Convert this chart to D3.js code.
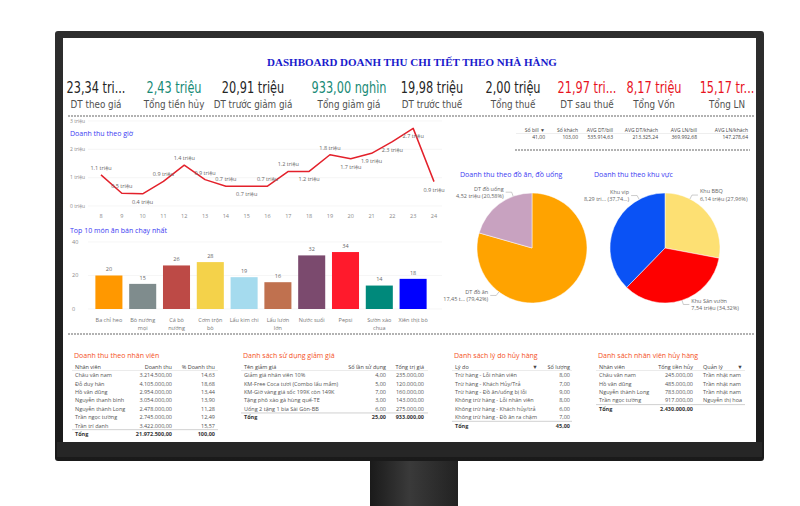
<!DOCTYPE html>
<html><head><meta charset="utf-8">
<script src="https://cdn.jsdelivr.net/npm/d3@7"></script>
<style>
body{margin:0;background:#fff}
svg{display:block}
</style>
</head><body>
<svg id="c" width="800" height="506"></svg>
<script>
// ---------- DATA ----------
const title = "DASHBOARD DOANH THU CHI TIẾT THEO NHÀ HÀNG";
const kpiValues = ["23,34 tri...","2,43 triệu","20,91 triệu","933,00 nghìn","19,98 triệu","2,00 triệu","21,97 tri...","8,17 triệu","15,17 tr..."];
const kpiLabels = ["DT theo giá","Tổng tiền hủy","DT trước giảm giá","Tổng giảm giá","DT trước thuế","Tổng thuế","DT sau thuế","Tổng Vốn","Tổng LN"];
const kpiTone = ["plain","good","plain","good","plain","plain","bad","bad","bad"];

const hours = [8,9,10,11,12,13,14,15,16,17,18,19,20,21,22,23,24];
const hourRevenue = [1.1,0.45,0.43,0.87,1.44,0.93,0.7,0.7,0.7,1.22,1.22,1.81,1.67,1.86,2.27,2.74,0.86];
const hourTicks = [0,1,2,3];
const hourLabelBelow = [10,15,18,20,21,22,23,24];

const dishes = ["Ba chỉ heo","Bò nướng\nmọi","Cá bò\nnướng","Cơm trộn\nbò","Lẩu kim chi","Lẩu lươn\nlớn","Nước suối","Pepsi","Sườn xào\nchua","Xiên thịt bò"];
const dishSold = [20,15,26,28,19,16,32,34,14,18];
const dishTicks = [0,20,40];

const summaryHeaders = ["Số bill ▼","Số khách","AVG DT/bill","AVG DT/khách","AVG LN/bill","AVG LN/khách"];
const summaryValues = ["41,00","103,00","535.914,63","213.325,24","369.992,68","147.278,64"];

const foodNames = ["DT đồ ăn","DT đồ uống"];
const foodValues = [17.451, 4.522];
const foodValueText = ["17,45 t...","4,52 triệu"];
const foodPct = ["79,42%","20,58%"];

const areaNames = ["Khu BBQ","Khu Sân vườn","Khu vip"];
const areaValues = [6.144, 7.541, 8.292];
const areaValueText = ["6,14 triệu","7,54 triệu","8,29 tri..."];
const areaPct = ["27,96%","34,32%","37,74..."];

const staffHeaders = ["Nhân viên","Doanh thu","% Doanh thu"];
const staffRows = [
  ["Châu văn nam","3.214.500,00","14,63"],
  ["Đỗ duy hân","4.105.000,00","18,68"],
  ["Hồ văn dũng","2.954.000,00","13,44"],
  ["Nguyễn thanh bình","3.054.000,00","13,90"],
  ["Nguyễn thành Long","2.478.000,00","11,28"],
  ["Trần ngọc tường","2.745.000,00","12,49"],
  ["Trần trí danh","3.422.000,00","15,57"]];
const staffTotal = ["Tổng","21.972.500,00","100,00"];

const discHeaders = ["Tên giảm giá","Số lần sử dụng","Tổng trị giá"];
const discRows = [
  ["Giảm giá nhân viên 10%","4,00","235.000,00"],
  ["KM-Free Coca tươi (Combo lẩu mắm)","5,00","120.000,00"],
  ["KM-Giờ vàng giá sốc 199K còn 149K","7,00","160.000,00"],
  ["Tặng phô xào gà hùng quế-TE","3,00","143.000,00"],
  ["Uống 2 tặng 1 bia Sài Gòn-BB","6,00","275.000,00"]];
const discTotal = ["Tổng","25,00","933.000,00"];

const reasonHeaders = ["Lý do","▼","Số lượng"];
const reasonRows = [
  ["Trừ hàng - Lỗi nhân viên","","8,00"],
  ["Trừ hàng - Khách Hủy/Trả","","7,00"],
  ["Trừ hàng - Đồ ăn/uống bị lỗi","","9,00"],
  ["Không trừ hàng - Lỗi nhân viên","","8,00"],
  ["Không trừ hàng - Khách hủy/trả","","6,00"],
  ["Không trừ hàng - Đồ ăn ra chậm","","7,00"]];
const reasonTotal = ["Tổng","","45,00"];

const cancelHeaders = ["Nhân viên","Tổng tiền hủy","Quản lý","▼"];
const cancelRows = [
  ["Châu văn nam","245.000,00","Trần nhật nam",""],
  ["Hồ văn dũng","485.000,00","Trần nhật nam",""],
  ["Nguyễn thành Long","783.000,00","Trần nhật nam",""],
  ["Trần ngọc tường","917.000,00","Nguyễn thị hoa",""]];
const cancelTotal = ["Tổng","2.430.000,00","",""];

// ---------- DRAW ----------
const svg = d3.select("#c");
const defs = svg.append("defs");
const gStand = defs.append("linearGradient").attr("id","stand").attr("x1","0").attr("x2","1");
gStand.append("stop").attr("offset","0").attr("stop-color","#1a1a1a");
gStand.append("stop").attr("offset","0.45").attr("stop-color","#3a3a3a");
gStand.append("stop").attr("offset","1").attr("stop-color","#222");
const gBez = defs.append("linearGradient").attr("id","bez").attr("x1","0").attr("x2","0").attr("y1","0").attr("y2","1");
gBez.append("stop").attr("offset","0").attr("stop-color","#2e2e2e");
gBez.append("stop").attr("offset","1").attr("stop-color","#1a1a1a");

// monitor
svg.append("rect").attr("x",370).attr("y",455).attr("width",88).attr("height",51).attr("fill","url(#stand)");
svg.append("rect").attr("x",55).attr("y",31).attr("width",709).attr("height",430).attr("rx",3).attr("fill","url(#bez)");
svg.append("rect").attr("x",57).attr("y",442).attr("width",705).attr("height",15).attr("fill","#262626");
svg.append("rect").attr("x",63).attr("y",38).attr("width",693).attr("height",404).attr("fill","#fff");

const grey = "#555";
const sans = "'Open Sans','Noto Sans',sans-serif";
function txt(g,x,y,s,opt={}){
  const t = g.append("text").attr("x",x).attr("y",y).attr("dy","0.35em")
    .style("font-family",opt.family||sans)
    .style("font-size",(opt.size||5.5)+"px").attr("fill",opt.fill||grey)
    .attr("text-anchor",opt.anchor||"start").text(s);
  if(opt.weight) t.style("font-weight",opt.weight);
  return t;
}
function dashed(y,x1,x2){
  svg.append("line").attr("x1",x1).attr("x2",x2).attr("y1",y).attr("y2",y)
    .attr("stroke","#999").attr("stroke-width",1.4).attr("stroke-dasharray","2,1");
}

// title
txt(svg,412,62,title,{size:11,fill:"#1a1acc",anchor:"middle",weight:"bold",family:"'Liberation Serif','DejaVu Serif',serif"});

// KPI cards (condensed by horizontal scaling)
const kpiCenters = [96,174,253,349,432,513,587,654,727];
const toneColor = {plain:"#252525",good:"#178a76",bad:"#e8131f"};
kpiValues.forEach((v,i)=>{
  const gv = svg.append("g").attr("transform",`translate(${kpiCenters[i]},88) scale(0.73,1)`);
  txt(gv,0,0,v,{size:15.5,fill:toneColor[kpiTone[i]],anchor:"middle",family:"'DejaVu Sans',sans-serif"});
  const gl = svg.append("g").attr("transform",`translate(${kpiCenters[i]},104) scale(0.88,1)`);
  txt(gl,0,0,kpiLabels[i],{size:10,fill:"#505050",anchor:"middle",family:"'DejaVu Sans',sans-serif"});
});
dashed(116,68,755);
dashed(334,68,755);

// line chart
const lc = svg.append("g");
const xL = d3.scalePoint().domain(hours).range([101,434]);
const yL = d3.scaleLinear().domain([0,3]).range([206,121]);
hourTicks.forEach(t=>{
  lc.append("line").attr("x1",88).attr("x2",442).attr("y1",yL(t)).attr("y2",yL(t)).attr("stroke","#f0f0f0").attr("stroke-width",0.6);
  txt(lc,70,yL(t),t+" triệu",{size:5,fill:"#888"});
});
txt(lc,70,134,"Doanh thu theo giờ",{size:7,fill:"#3b3bf2"});
hours.forEach(h=>txt(lc,xL(h),216,h,{size:5.5,fill:"#888",anchor:"middle"}));
lc.append("path").datum(hours.map((h,i)=>[h,hourRevenue[i]]))
  .attr("fill","none").attr("stroke","#e3212b").attr("stroke-width",1.5).attr("stroke-linejoin","round")
  .attr("d",d3.line().x(d=>xL(d[0])).y(d=>yL(d[1])));
const f1 = d3.format(".1f");
hours.forEach((h,i)=>{
  const below = hourLabelBelow.includes(h);
  txt(lc,xL(h),yL(hourRevenue[i])+(below?8:-7),f1(hourRevenue[i])+" triệu",{size:5.5,fill:"#666",anchor:"middle"});
});

// bar chart
const bc = svg.append("g");
txt(bc,70,231,"Top 10 món ăn bán chạy nhất",{size:7,fill:"#3b3bf2"});
const xB = d3.scaleBand().domain(dishes).range([92,430]).paddingInner(0.2).paddingOuter(0.1);
const yB = d3.scaleLinear().domain([0,40]).range([309,242]);
dishTicks.forEach(t=>{
  bc.append("line").attr("x1",88).attr("x2",442).attr("y1",yB(t)).attr("y2",yB(t)).attr("stroke","#f0f0f0").attr("stroke-width",0.6);
  txt(bc,72,yB(t),t,{size:5.5,fill:"#888"});
});
const barColors = ["#ff9800","#7f8c8d","#bd4a46","#f4d24a","#a5dbee","#c0714f","#7b4a6e","#ff1a2c","#00897b","#0000ff"];
dishes.forEach((d,i)=>{
  bc.append("rect").attr("x",xB(d)).attr("y",yB(dishSold[i])).attr("width",xB.bandwidth())
    .attr("height",yB(0)-yB(dishSold[i])).attr("fill",barColors[i]);
  txt(bc,xB(d)+xB.bandwidth()/2,yB(dishSold[i])-6,dishSold[i],{size:5.5,fill:"#666",anchor:"middle"});
  d.split("\n").forEach((ln,k)=>txt(bc,xB(d)+xB.bandwidth()/2,320+k*8,ln,{size:5.5,fill:"#777",anchor:"middle"}));
});

// summary table (top right)
const sumRight = [545,578,613,658,697,748];
summaryHeaders.forEach((h,i)=>{
  txt(svg,sumRight[i],130,h,{size:5,fill:"#444",anchor:"end"});
  txt(svg,sumRight[i],137,summaryValues[i],{size:5,fill:"#444",anchor:"end"});
});
svg.append("line").attr("x1",516).attr("x2",748).attr("y1",133.5).attr("y2",133.5).attr("stroke","#ddd").attr("stroke-width",0.5);
dashed(150,515,750);

// pies
function drawPie(cx,cy,r,names,values,vtext,pct,colors,labelAngles,titleText,titleX){
  const g = svg.append("g");
  txt(g,titleX,175,titleText,{size:7,fill:"#3b3bf2"});
  const arcs = d3.pie().sort(null).value(d=>d)(values);
  const arc = d3.arc().innerRadius(0).outerRadius(r);
  const pg = g.append("g").attr("transform",`translate(${cx},${cy})`);
  pg.selectAll("path").data(arcs).join("path").attr("d",arc)
    .attr("fill",(d,i)=>colors[i]).attr("stroke","#fff").attr("stroke-width",0.5);
  arcs.forEach((a,i)=>{
    const ang = labelAngles[i]*Math.PI/180;
    const s = Math.sin(ang), c = Math.cos(ang);
    const p1 = [cx+r*s, cy-r*c], p2=[cx+r*1.08*s, cy-r*1.08*c];
    const dir = s>=0?1:-1;
    const p3 = [p2[0]+6*dir, p2[1]];
    g.append("polyline").attr("points",[p1,p2,p3].map(p=>p.join(",")).join(" "))
      .attr("fill","none").attr("stroke","#aaa").attr("stroke-width",0.6);
    const anchor = dir>0?"start":"end";
    txt(g,p3[0]+2*dir,p3[1]-3.5,names[i],{size:5.5,fill:"#666",anchor});
    txt(g,p3[0]+2*dir,p3[1]+3.8,vtext[i]+" ("+pct[i]+")",{size:5.5,fill:"#666",anchor});
  });
}
drawPie(532,248,55,foodNames,foodValues,foodValueText,foodPct,["#ffa300","#c8a2c0"],[217,340],"Doanh thu theo đồ ăn, đồ uống",460);
drawPie(665,248,55,areaNames,areaValues,areaValueText,areaPct,["#fde073","#fe0000","#0a52f5"],[27,162,332],"Doanh thu theo khu vực",594);

// bottom tables
function drawTable(spec){
  const g = svg.append("g");
  txt(g,spec.x0+2,356,spec.title,{size:7,fill:"#f4511e"});
  spec.headers.forEach((h,i)=>txt(g,spec.cols[i],367,h,{size:5.5,fill:"#444",anchor:spec.anchors[i]}));
  g.append("line").attr("x1",spec.x0).attr("x2",spec.x1).attr("y1",370.5).attr("y2",370.5).attr("stroke","#ddd").attr("stroke-width",0.6);
  const step = 8.35;
  spec.rows.forEach((r,j)=>r.forEach((v,i)=>txt(g,spec.cols[i],375.5+j*step,v,{size:5.5,fill:"#555",anchor:spec.anchors[i]})));
  const ty = 375.5+spec.rows.length*step;
  g.append("line").attr("x1",spec.x0).attr("x2",spec.x1).attr("y1",ty-4.3).attr("y2",ty-4.3).attr("stroke","#ccc").attr("stroke-width",0.9);
  spec.total.forEach((v,i)=>txt(g,spec.cols[i],ty,v,{size:5.5,fill:"#333",anchor:spec.anchors[i],weight:"bold"}));
}
drawTable({x0:72,x1:218,title:"Doanh thu theo nhân viên",headers:staffHeaders,rows:staffRows,total:staffTotal,cols:[75,172,215],anchors:["start","end","end"]});
drawTable({x0:241,x1:428,title:"Danh sách sử dụng giảm giá",headers:discHeaders,rows:discRows,total:discTotal,cols:[244,386,424],anchors:["start","end","end"]});
drawTable({x0:452,x1:572,title:"Danh sách lý do hủy hàng",headers:reasonHeaders,rows:reasonRows,total:reasonTotal,cols:[455,535,570],anchors:["start","middle","end"]});
drawTable({x0:596,x1:745,title:"Danh sách nhân viên hủy hàng",headers:cancelHeaders,rows:cancelRows,total:cancelTotal,cols:[599,693,703,740],anchors:["start","end","start","middle"]});
</script>
</body></html>
